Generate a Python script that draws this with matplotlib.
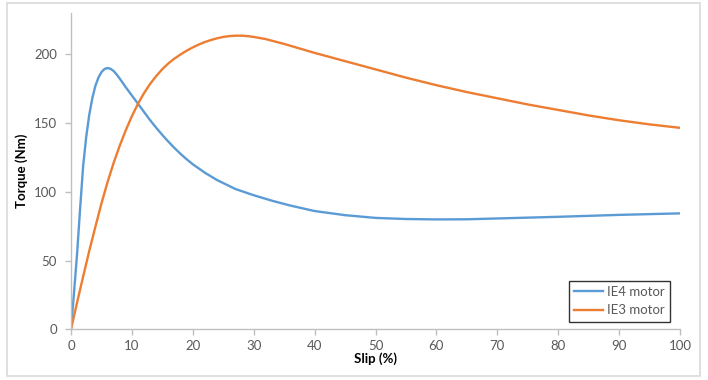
import matplotlib.pyplot as plt
from matplotlib.patches import Rectangle

# --- data ---
slip_ie4 = [0, 0.5, 1, 1.5, 2, 2.5, 3, 3.5, 4, 4.5, 5, 5.5, 6, 6.5, 7, 7.5, 8, 9, 10,
            11, 12, 13, 14, 15, 16, 17, 18, 19, 20, 22, 24, 27, 30, 33, 36, 40, 45,
            50, 55, 60, 65, 70, 80, 90, 100]
torque_ie4 = [0, 27, 55, 88, 119, 140, 156, 168, 177, 183, 187, 189.3, 190, 189.4, 187.8,
              185.3, 182.3, 176, 170, 164, 158, 152, 146.5, 141.3, 136.4, 131.8, 127.5,
              123.6, 120, 113.8, 108.5, 102, 97.5, 93.5, 90, 86, 83, 81, 80.2, 79.9, 80,
              80.6, 81.8, 83.2, 84.3]

slip_ie3 = [0, 1, 2, 3, 4, 5, 6, 7, 8, 9, 10, 11, 12, 13, 14, 15, 16, 17, 18, 19, 20,
            21, 22, 23, 24, 25, 26, 27, 28, 29, 30, 32, 35, 40, 45, 50, 55, 60, 65, 70,
            75, 80, 85, 90, 95, 100]
torque_ie3 = [0, 19.5, 38.5, 57, 74.5, 91.5, 107, 121, 133.5, 144.8, 155, 164, 171.8, 178.5,
              184.2, 189.2, 193.4, 196.9, 199.9, 202.6, 205, 207.1, 208.9, 210.4, 211.6,
              212.6, 213.2, 213.5, 213.5, 213.2, 212.6, 211, 207.5, 201, 195, 189, 183,
              177.5, 172.5, 168, 163.5, 159.5, 155.5, 152, 149, 146.5]

x_ticks = list(range(0, 101, 10))
y_ticks = [0, 50, 100, 150, 200]

BLUE = '#5B9BD5'
ORANGE = '#ED7D31'
AXIS_GREY = '#BFBFBF'
TEXT_GREY = '#595959'

plt.rcParams['font.family'] = ['Lato', 'DejaVu Sans']

fig = plt.figure(figsize=(7.08, 3.8), dpi=100)
ax = fig.add_axes([71 / 708, 1 - 329.3 / 380, 609 / 708, 316.3 / 380])

# khung viền xám quanh cả hình
fig.patches.append(Rectangle((7 / 708, 1 - 376 / 380), 693 / 708, 373 / 380,
                             transform=fig.transFigure, fill=False,
                             edgecolor='#D9D9D9', linewidth=1.2))

ax.plot(slip_ie4, torque_ie4, color=BLUE, linewidth=1.7, label='IE4 motor',
        solid_joinstyle='round')
ax.plot(slip_ie3, torque_ie3, color=ORANGE, linewidth=1.7, label='IE3 motor',
        solid_joinstyle='round')

ax.set_xlim(0, 100)
ax.set_ylim(0, 230)
ax.set_xticks(x_ticks)
ax.set_yticks(y_ticks)

for side in ['top', 'right']:
    ax.spines[side].set_visible(False)
for side in ['left', 'bottom']:
    ax.spines[side].set_color(AXIS_GREY)
    ax.spines[side].set_linewidth(1.0)

ax.tick_params(axis='both', direction='out', length=4, width=1.0,
               color=AXIS_GREY, labelcolor=TEXT_GREY, labelsize=9.5)
ax.tick_params(axis='x', pad=4)
ax.tick_params(axis='y', pad=6)

ax.set_xlabel('Slip (%)', fontsize=9.5, fontweight='bold', labelpad=0)
ax.set_ylabel('Torque (Nm)', fontsize=9.5, fontweight='bold', labelpad=4)

leg = ax.legend(loc='lower right', bbox_to_anchor=(0.984, 0.024), borderaxespad=0,
                fontsize=9.5, frameon=True, fancybox=False, handlelength=2.2,
                handletextpad=0.3, labelspacing=0.5)
leg.get_frame().set_edgecolor('black')
leg.get_frame().set_linewidth(1.0)
for t in leg.get_texts():
    t.set_color(TEXT_GREY)

fig.savefig('out.png', dpi=100)
